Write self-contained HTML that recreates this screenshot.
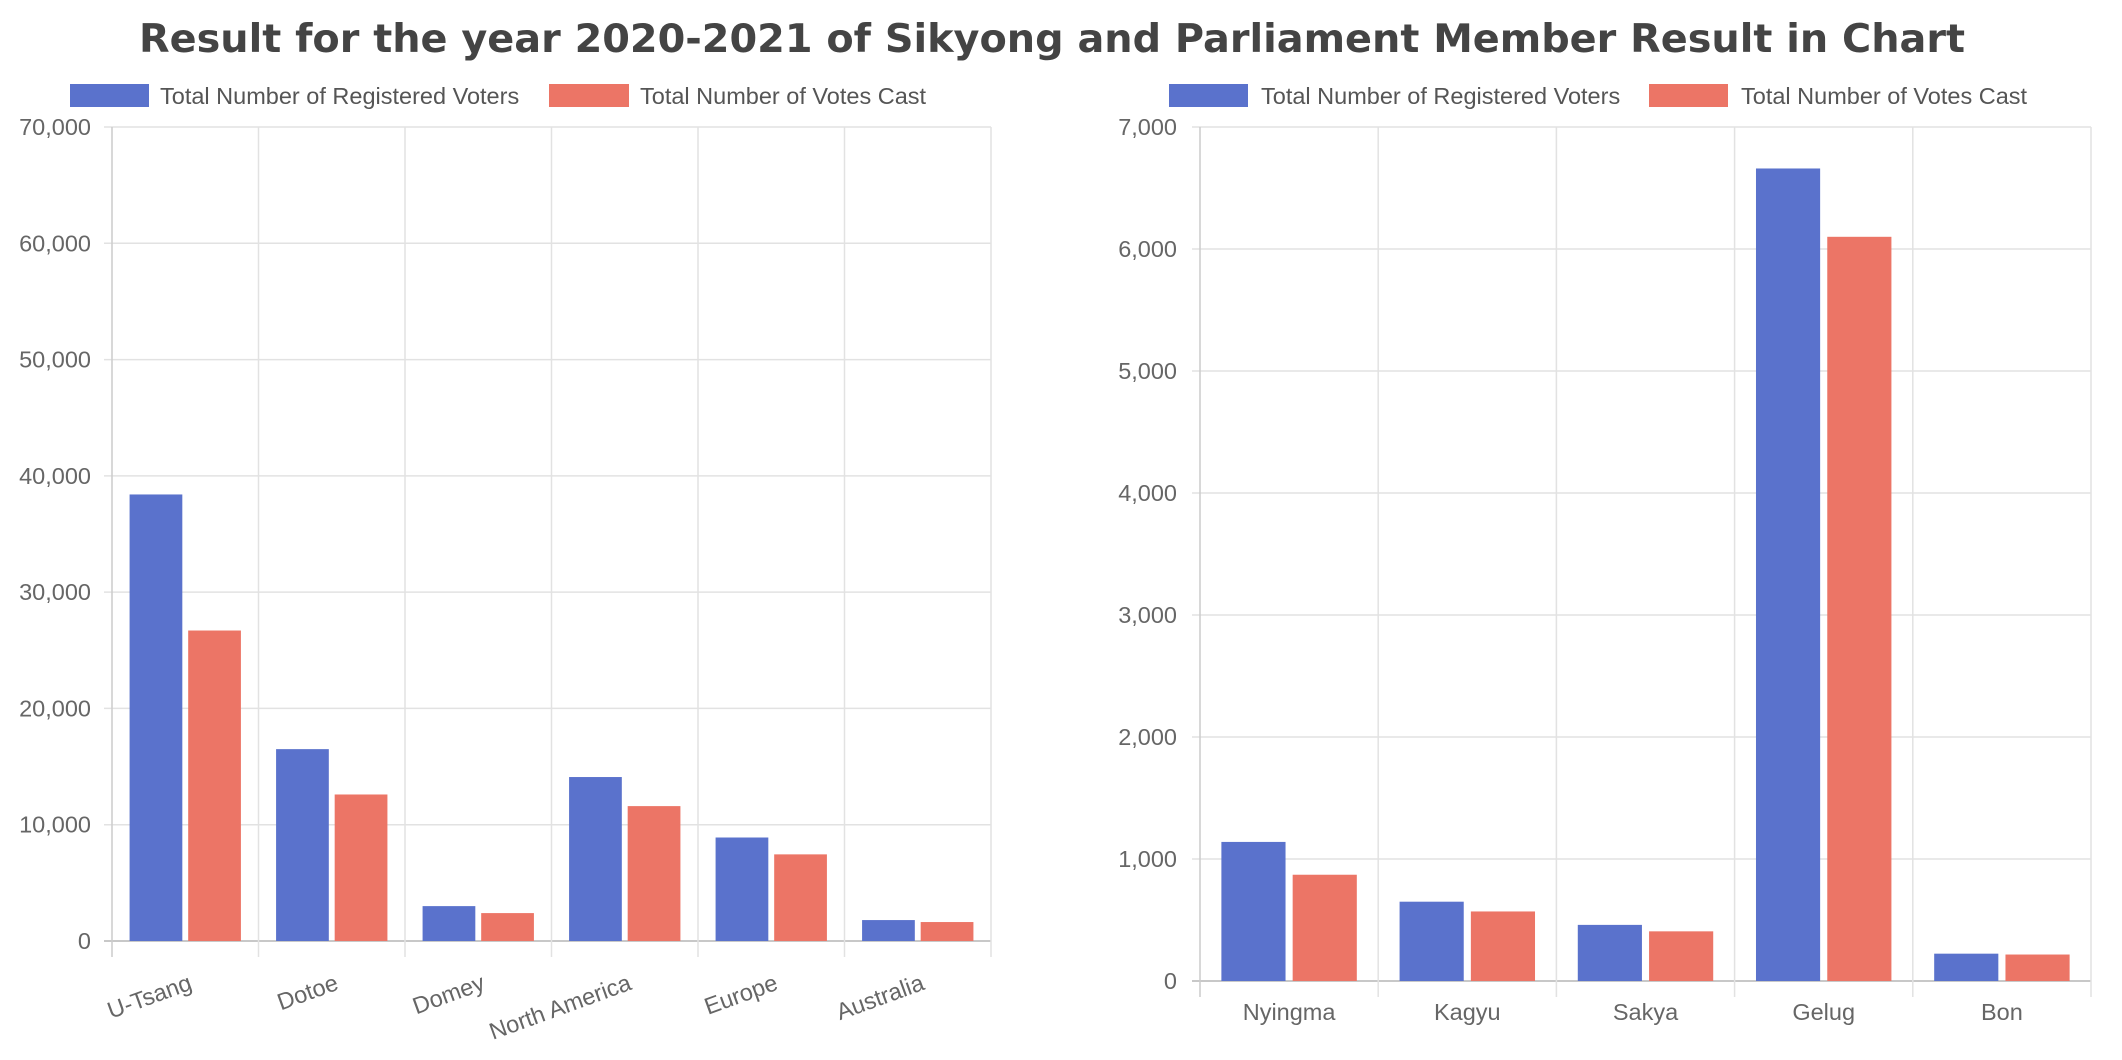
<!DOCTYPE html>
<html><head><meta charset="utf-8"><style>
html,body{margin:0;padding:0;background:#fff;}
svg{display:block;font-family:"Liberation Sans",Arial,sans-serif;}
</style></head><body>
<svg id="s" width="2122" height="1060" viewBox="0 0 2122 1060">
<text x="1052" y="52" text-anchor="middle" font-family="DejaVu Sans,Verdana,sans-serif" font-weight="bold" font-size="39" fill="#444" textLength="1826" lengthAdjust="spacingAndGlyphs">Result for the year 2020-2021 of Sikyong and Parliament Member Result in Chart</text>
<g>
<rect x="70" y="84" width="79" height="23" fill="#5a72cc"/>
<text x="160" y="104" font-size="23.5" fill="#555">Total Number of Registered Voters</text>
<rect x="549" y="84" width="80" height="23" fill="#ec7566"/>
<text x="640" y="104" font-size="23.5" fill="#555">Total Number of Votes Cast</text>
</g>
<g>
<rect x="1169" y="84" width="79" height="23" fill="#5a72cc"/>
<text x="1261" y="104" font-size="23.5" fill="#555">Total Number of Registered Voters</text>
<rect x="1649" y="84" width="79" height="23" fill="#ec7566"/>
<text x="1741" y="104" font-size="23.5" fill="#555">Total Number of Votes Cast</text>
</g>
<g id="left"></g>
<g id="right"></g>
</svg>
<script>
const leftCategories = ["U-Tsang","Dotoe","Domey","North America","Europe","Australia"];
const leftRegistered = [38400,16500,3000,14100,8900,1800];
const leftCast = [26700,12600,2400,11600,7450,1630];
const leftTicks = [0,10000,20000,30000,40000,50000,60000,70000];
const rightCategories = ["Nyingma","Kagyu","Sakya","Gelug","Bon"];
const rightRegistered = [1140,650,460,6660,224];
const rightCast = [871,570,407,6100,217];
const rightTicks = [0,1000,2000,3000,4000,5000,6000,7000];

const NS="http://www.w3.org/2000/svg";
function mk(parent,tag,attrs){const e=document.createElementNS(NS,tag);for(const k in attrs)e.setAttribute(k,attrs[k]);parent.appendChild(e);return e;}
function fmt(v){return v.toLocaleString("en-US");}

function drawChart(g,cfg){
  const {cats,reg,cast,ticks,x0,x1,y0,yTop,max,rotate,labelX}=cfg;
  const yS=v=>y0-(v/max)*(y0-yTop);
  const cw=(x1-x0)/cats.length;
  ticks.forEach(t=>{
    const y=yS(t);
    const l=mk(g,"line",{x1:x0-8,x2:x1,y1:y,y2:y,stroke:t===0?"#c8c8c8":"#e2e2e2","stroke-width":t===0?2:1.5});
    
    
    const tx=mk(g,"text",{x:labelX,y:y+8,"text-anchor":"end","font-size":23.5,fill:"#666"});
    tx.textContent=fmt(t);
    
    
  });
  for(let i=0;i<=cats.length;i++){
    const x=x0+i*cw;
    const l=mk(g,"line",{x1:x,x2:x,y1:yTop,y2:y0+16,stroke:i===0?"#cccccc":"#e2e2e2","stroke-width":1.5});
    
    
  }
  const slot=cw*0.8/2, bw=slot*0.9;
  cats.forEach((c,i)=>{
    const cx=x0+i*cw+cw/2;
    [[reg,"#5a72cc","bar-registered"],[cast,"#ec7566","bar-votes-cast"]].forEach((s,j)=>{
      const v=s[0][i];
      const bx=cx-slot+j*slot+(slot-bw)/2;
      const r=mk(g,"rect",{x:bx,y:yS(v),width:bw,height:y0-yS(v),fill:s[1]});
      
      
    });
    let t;
    if(rotate){
      t=mk(g,"text",{x:cx+8,y:y0+48,"text-anchor":"end","font-size":23.5,fill:"#666",transform:`rotate(-20 ${cx+8} ${y0+48})`});
    } else {
      t=mk(g,"text",{x:cx,y:y0+39,"text-anchor":"middle","font-size":23.5,fill:"#666"});
    }
    t.textContent=c;
    
    
  });
}
drawChart(document.getElementById("left"),{cats:leftCategories,reg:leftRegistered,cast:leftCast,ticks:leftTicks,x0:112,x1:991,y0:941,yTop:127,max:70000,rotate:true,labelX:91});
drawChart(document.getElementById("right"),{cats:rightCategories,reg:rightRegistered,cast:rightCast,ticks:rightTicks,x0:1200,x1:2091,y0:981,yTop:127,max:7000,rotate:false,labelX:1177});
</script>
</body></html>
